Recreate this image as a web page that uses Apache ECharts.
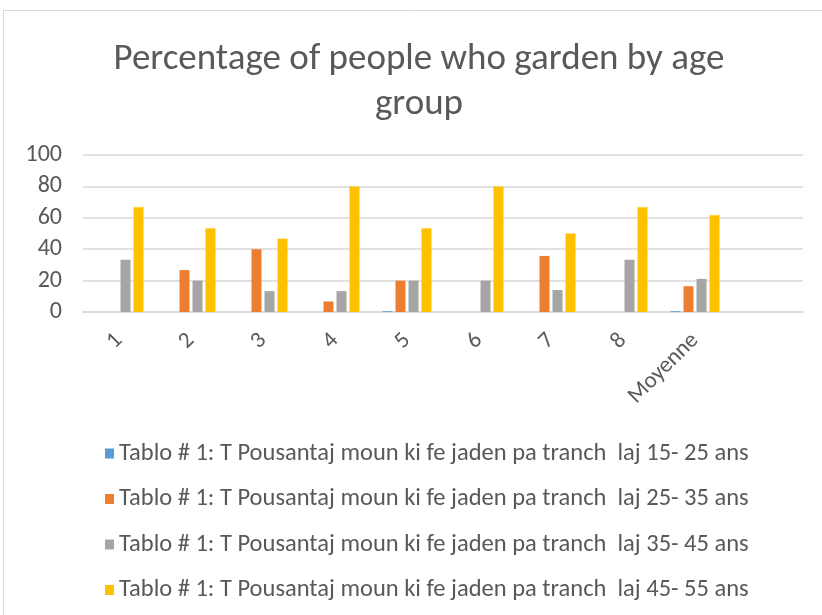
<!DOCTYPE html>
<html>
<head>
<meta charset="utf-8">
<script src="https://cdn.jsdelivr.net/npm/echarts@6/dist/echarts.min.js"></script>
<style>
  html, body { margin: 0; padding: 0; background: #fff; }
  #chart { width: 822px; height: 615px; }
</style>
</head>
<body>
<div id="chart"></div>
<script>
var categories = ['1', '2', '3', '4', '5', '6', '7', '8', 'Moyenne', ''];
var seriesNames = [
  'Tablo # 1: T Pousantaj moun ki fe jaden pa tranch  laj 15- 25 ans',
  'Tablo # 1: T Pousantaj moun ki fe jaden pa tranch  laj 25- 35 ans',
  'Tablo # 1: T Pousantaj moun ki fe jaden pa tranch  laj 35- 45 ans',
  'Tablo # 1: T Pousantaj moun ki fe jaden pa tranch  laj 45- 55 ans'
];
var age15to25 = [0, 0, 0, 0, 0.5, 0, 0, 0, 0.5, null];
var age25to35 = [0, 26.7, 40, 6.7, 20, 0, 35.7, 0, 16.4, null];
var age35to45 = [33.3, 20, 13.3, 13.3, 20, 20, 14, 33.3, 21.1, null];
var age45to55 = [66.7, 53.3, 46.7, 80, 53.3, 80, 50, 66.7, 61.7, null];
var yTicks = [0, 20, 40, 60, 80, 100];

var colors = ['#5B9BD5', '#ED7D31', '#A5A5A5', '#FFC000'];
var font = 'Carlito, "Liberation Sans Narrow", "DejaVu Sans Condensed", sans-serif';

var chartDom = document.getElementById('chart');
var myChart = echarts.init(chartDom);
var option;

var allData = [age15to25, age25to35, age35to45, age45to55];
var series = seriesNames.map(function (name, i) {
  return {
    name: name,
    type: 'bar',
    data: allData[i],
    barWidth: 10,
    barGap: '30%',
    itemStyle: { color: colors[i] }
  };
});

option = {
  animation: false,
  color: colors,
  title: {
    text: 'Percentage of people who garden by age\ngroup',
    left: 414,
    top: 32,
    textAlign: 'center',
    textStyle: {
      fontFamily: font,
      fontWeight: 'normal',
      fontSize: 37,
      color: '#595959',
      lineHeight: 45
    }
  },
  graphic: [{
    type: 'rect',
    shape: { x: 3.5, y: 10.5, width: 830, height: 620 },
    style: { fill: 'none', stroke: '#D9D9D9', lineWidth: 1 },
    silent: true
  }],
  legend: {
    orient: 'vertical',
    left: 100,
    top: 436,
    itemWidth: 9,
    itemHeight: 10,
    itemGap: 20.5,
    icon: 'rect',
    textStyle: { fontFamily: font, fontSize: 24.5, color: '#595959' },
    data: seriesNames
  },
  grid: { left: 83, right: 19, top: 155, bottom: 303 },
  xAxis: {
    type: 'category',
    data: categories,
    axisLine: { lineStyle: { color: '#D9D9D9', width: 1.5 } },
    axisTick: { show: false },
    axisLabel: {
      rotate: 45,
      interval: 0,
      margin: 25,
      fontFamily: font,
      fontSize: 23,
      color: '#595959'
    }
  },
  yAxis: {
    type: 'value',
    min: 0,
    max: 100,
    interval: 20,
    axisLine: { show: false },
    axisTick: { show: false },
    splitLine: { lineStyle: { color: '#D9D9D9', width: 1.5 } },
    axisLabel: {
      margin: 21,
      fontFamily: font,
      fontSize: 24,
      color: '#595959',
      formatter: function (v) { return yTicks.indexOf(v) >= 0 ? String(v) : ''; }
    }
  },
  series: series
};

option && myChart.setOption(option);
</script>
</body>
</html>
